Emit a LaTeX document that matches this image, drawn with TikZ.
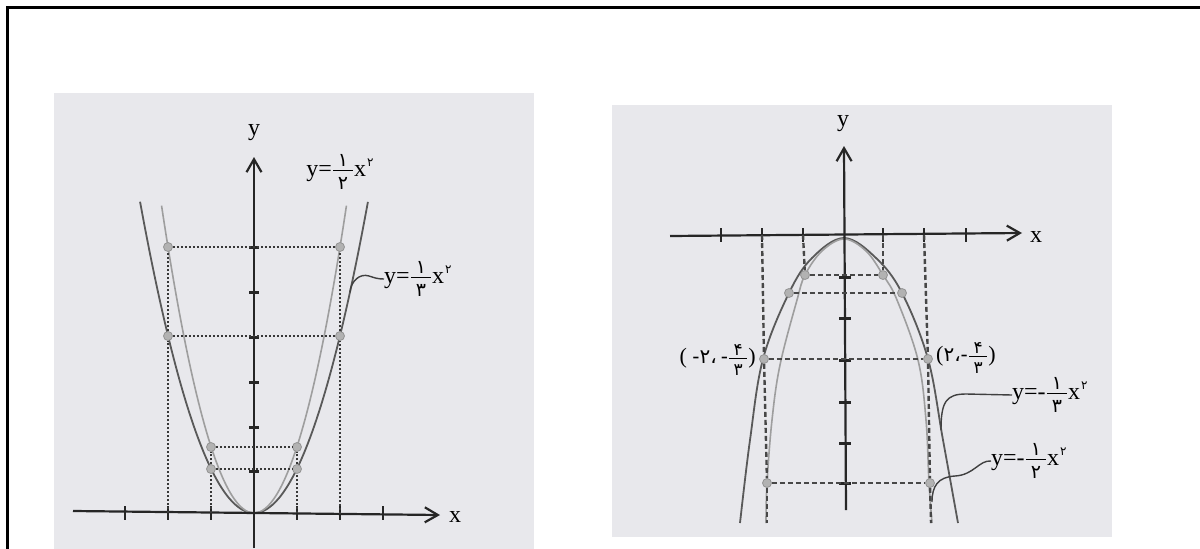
\documentclass[tikz,border=0pt]{standalone}
\usepackage{fontspec}
\setmainfont{Liberation Serif}
\newfontfamily\pd{DejaVu Sans}
\usetikzlibrary{arrows.meta}
\definecolor{panelbg}{RGB}{232,232,236}
\newcommand\pdig[2]{\hbox{\pd\fontsize{#1}{#1}\selectfont #2}}
\newcommand\myfr[4]{$\frac{\hbox to #1pt{\hss\pdig{#4}{#2}\hss}\rule[-2.5pt]{0pt}{1pt}}{\rule{0pt}{#4pt}\hbox to #1pt{\hss\pdig{#4}{#3}\hss}}$}
\newcommand\sq{\kern1pt\raisebox{10pt}{\pdig{12}{۲}}}
\begin{document}
\begin{tikzpicture}[x=1pt,y=-1pt,
  axisline/.style={line width=2.2, black!85},
  ytk/.style={line width=3, black!85},
  xtk/.style={line width=1.8, black!85},
  outercurve/.style={line width=1.8, black!65},
  innercurve/.style={line width=1.6, black!38},
  guideL/.style={line width=1.4, black!78, dash pattern=on 2.5 off 1.5},
  guideR/.style={line width=2.4, black!72, dash pattern=on 5 off 3},
  dotpt/.style={circle, inner sep=0pt, minimum size=9pt, fill=black!30, draw=black!42, line width=0.8},
  lbl/.style={inner sep=0pt, font=\fontsize{24}{26}\selectfont},
  clbl/.style={inner sep=0pt, font=\fontsize{22}{24}\selectfont},
  conn/.style={line width=1.4, black!75},
  tipax/.style={-{Straight Barb[length=13pt, width=15pt]}}
]
\useasboundingbox (0,0) rectangle (1200,549);
\fill[white] (0,0) rectangle (1200,549);
\draw[line width=3] (7,549) -- (7,7) -- (1200,7);

% panels
\fill[panelbg] (54,93) rectangle (534,549);
\fill[panelbg] (612,105) rectangle (1112,537);

%%%%%%%% LEFT PLOT %%%%%%%%
\draw[outercurve] plot[domain=-2.65:2.65, samples=80, smooth] ({254+43*\x},{513-44.33*\x*\x});
\draw[innercurve] plot[domain=-2.15:2.15, samples=80, smooth] ({254+43*\x},{513-66.5*\x*\x});

\coordinate (xls) at (73,511);
\coordinate (xle) at (440,515);
\coordinate (yls) at (254,548);
\coordinate (yle) at (254,157);
\draw[axisline, tipax] (xls) -- (xle);
\draw[axisline, tipax] (yls) -- (yle);
\node[lbl] (xL) at (455,517) {x};
\node[lbl] (yL) at (254,133) {y};
\foreach \t in {125,168,211,297,340,383} \draw[xtk] (\t,506) -- (\t,520);
\foreach \t in {247,292,337,382,427,471} \draw[ytk] (249,\t) -- (259,\t);

\coordinate (fm2) at (168,513);
\coordinate (fm1) at (211,513);
\coordinate (fp1) at (297,513);
\coordinate (fp2) at (340,514);

\node[dotpt] (a1) at (168,247) {};
\node[dotpt] (a2) at (340,247) {};
\node[dotpt] (b1) at (168,336) {};
\node[dotpt] (b2) at (340,336) {};
\node[dotpt] (c1) at (211,447) {};
\node[dotpt] (c2) at (297,447) {};
\node[dotpt] (d1) at (211,469) {};
\node[dotpt] (d2) at (297,469) {};

\draw[guideL] (fm2) -- (b1);
\draw[guideL] (b1) -- (a1);
\draw[guideL] (fp2) -- (b2);
\draw[guideL] (b2) -- (a2);
\draw[guideL] (a1) -- (a2);
\draw[guideL] (b1) -- (b2);
\draw[guideL] (fm1) -- (d1);
\draw[guideL] (d1) -- (c1);
\draw[guideL] (fp1) -- (d2);
\draw[guideL] (d2) -- (c2);
\draw[guideL] (c1) -- (c2);
\draw[guideL] (d1) -- (d2);

\node[lbl] (L1) at (340,172) {y=\myfr{20}{۱}{۲}{19}x\sq};
\node[lbl, anchor=west] (L2) at (384,279) {y=\myfr{20}{۱}{۳}{19}x\sq};
\coordinate (k2) at (350,292);
\draw[conn] (k2) .. controls (351,281) and (360,273) .. (369,276) .. controls (375,278) and (378,279) .. (L2.west);

%%%%%%%% RIGHT PLOT %%%%%%%%
\draw[outercurve] plot[smooth, tension=0.6] coordinates {(740,523) (750,440) (763,359) (789,293) (812,258) (844,238) (876,258) (902,293) (928,359) (943,440) (958,523)};
\draw[innercurve] plot[smooth, tension=0.6] coordinates {(766,523) (767,483) (772,420) (780,365) (797,300) (805,275) (822,251) (844,239) (866,251) (883,275) (897,300) (918,360) (926,420) (929,483) (932,523)};

\coordinate (xrs) at (670,236);
\coordinate (xre) at (1022,233);
\coordinate (yrs) at (846,510);
\coordinate (yre) at (844,146);
\draw[axisline, tipax] (xrs) -- (xre);
\draw[axisline, tipax] (yrs) -- (yre);
\node[lbl] (xR) at (1036,237) {x};
\node[lbl] (yR) at (843,124) {y};
\foreach \t in {721,762,803,883,924,966} \draw[xtk] (\t,228) -- (\t,242);
\foreach \t in {277,318,360,402,443,483} \draw[ytk] (839,\t) -- (851,\t);

\coordinate (gm2) at (762,235);
\coordinate (gm1) at (803,235);
\coordinate (gp1) at (883,235);
\coordinate (gp2) at (924,235);
\coordinate (hm2) at (767,523);
\coordinate (hp2) at (931,523);

\node[dotpt] (r1) at (805,275) {};
\node[dotpt] (r2) at (883,275) {};
\node[dotpt] (s1) at (789,293) {};
\node[dotpt] (s2) at (902,293) {};
\node[dotpt] (t1) at (764,359) {};
\node[dotpt] (t2) at (928,359) {};
\node[dotpt] (u1) at (767,483) {};
\node[dotpt] (u2) at (930,483) {};

\draw[guideR] (gm2) -- (t1);
\draw[guideR] (t1) -- (u1);
\draw[guideR] (u1) -- (hm2);
\draw[guideR] (gp2) -- (t2);
\draw[guideR] (t2) -- (u2);
\draw[guideR] (u2) -- (hp2);
\draw[guideR] (gm1) -- (r1);
\draw[guideR] (gp1) -- (r2);
\draw[guideR] (r1) -- (r2);
\draw[guideR] (s1) -- (s2);
\draw[guideR] (t1) -- (t2);
\draw[guideR] (u1) -- (u2);

\node[clbl, anchor=east] (L5) at (756,360) {( \pdig{20}{-۲،}\kern4pt\pdig{20}{-}\myfr{18}{۴}{۳}{17})};
\node[clbl, anchor=west] (L6) at (936,358) {(\pdig{20}{۲،-}\myfr{18}{۴}{۳}{17})};

\node[lbl, anchor=west] (L3) at (1012,395) {y=-\myfr{20}{۱}{۳}{19}x\sq};
\node[lbl, anchor=west] (L4) at (991,461) {y=-\myfr{20}{۱}{۲}{19}x\sq};
\coordinate (k3) at (941,430);
\coordinate (k4) at (932,502);
\draw[conn] (k3) .. controls (941,402) and (946,394) .. (966,394) -- (L3.west);
\draw[conn] (k4) .. controls (932,486) and (938,477) .. (955,476) .. controls (974,475) and (979,460) .. (L4.west);
\end{tikzpicture}
\end{document}
